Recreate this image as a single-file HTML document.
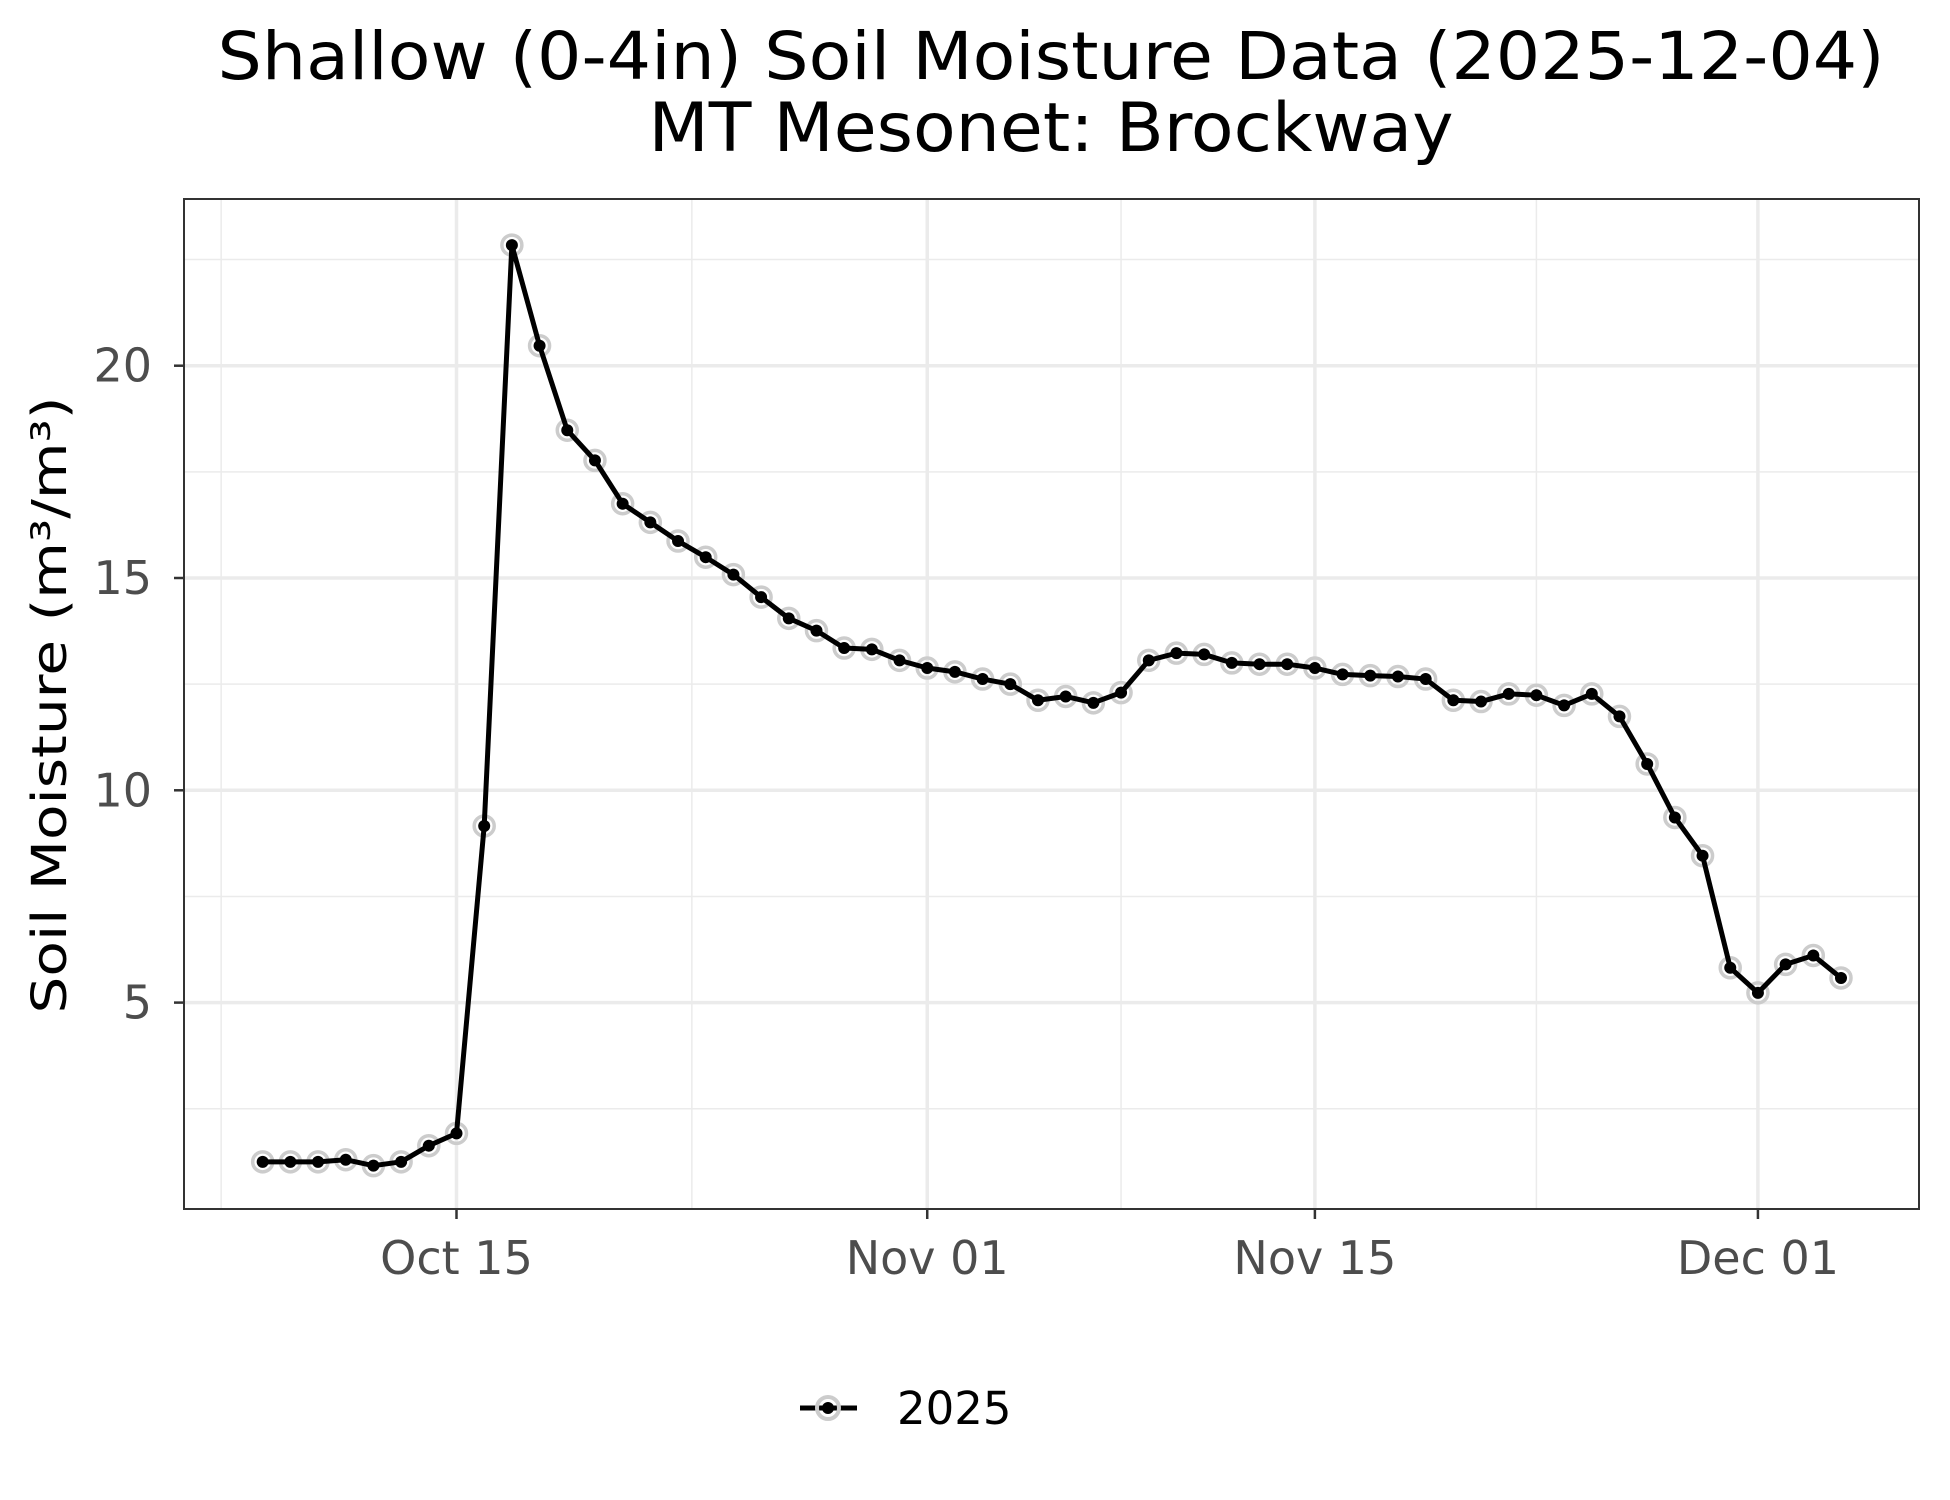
<!DOCTYPE html>
<html><head><meta charset="utf-8"><style>html,body{margin:0;padding:0;background:#fff}svg{display:block}</style></head>
<body>
<svg id="s" width="1950" height="1500" viewBox="0 0 1950 1500" xmlns="http://www.w3.org/2000/svg" font-family="DejaVu Sans, Liberation Sans, sans-serif">
<rect width="1950" height="1500" fill="#fff"/>
<text x="1051" y="79" font-size="66" text-anchor="middle" textLength="1667" lengthAdjust="spacingAndGlyphs">Shallow (0-4in) Soil Moisture Data (2025-12-04)</text>
<text x="1051" y="151" font-size="68" text-anchor="middle" textLength="805" lengthAdjust="spacingAndGlyphs">MT Mesonet: Brockway</text>
<g id="grid"></g>
<g id="data"></g>
<rect x="184" y="199" width="1735" height="1010" fill="none" stroke="#333" stroke-width="2"/>
<g id="ticks" font-size="46" fill="#4d4d4d"></g>
<text transform="translate(66,705) rotate(-90)" font-size="48" text-anchor="middle" textLength="617" lengthAdjust="spacingAndGlyphs">Soil Moisture (m³/m³)</text>
<line x1="800" y1="1408" x2="857" y2="1408" stroke="#000" stroke-width="5"/>
<circle cx="828" cy="1408" r="11" fill="none" stroke="#ccc" stroke-width="4"/>
<circle cx="828" cy="1408" r="6" fill="#000"/>
<text x="897" y="1424" font-size="45">2025</text>
</svg>
<script>
const NS="http://www.w3.org/2000/svg";
function el(p,t,a,txt){const e=document.createElementNS(NS,t);for(const k in a)e.setAttribute(k,a[k]);if(txt)e.textContent=txt;document.getElementById(p).appendChild(e);}
const X=d=>456.5+d*27.69;
const Y=v=>1002.6-(v-5)*42.46;
[2.5,7.5,12.5,17.5,22.5].forEach(v=>el('grid','line',{x1:184,x2:1919,y1:Y(v),y2:Y(v),stroke:'#ebebeb','stroke-width':1.5}));
[-8.5,8.5,24,39].forEach(d=>el('grid','line',{y1:199,y2:1209,x1:X(d),x2:X(d),stroke:'#ebebeb','stroke-width':1.5}));
[5,10,15,20].forEach(v=>{el('grid','line',{x1:184,x2:1919,y1:Y(v),y2:Y(v),stroke:'#ebebeb','stroke-width':3.5});
 el('ticks','line',{x1:174,x2:184,y1:Y(v),y2:Y(v),stroke:'#333','stroke-width':2.5});
 el('ticks','text',{x:152,y:Y(v)+16,'text-anchor':'end'},String(v));});
[[0,'Oct 15'],[17,'Nov 01'],[31,'Nov 15'],[47,'Dec 01']].forEach(([d,l])=>{
 el('grid','line',{y1:199,y2:1209,x1:X(d),x2:X(d),stroke:'#ebebeb','stroke-width':3.5});
 el('ticks','line',{y1:1209,y2:1219,x1:X(d),x2:X(d),stroke:'#333','stroke-width':2.5});
 el('ticks','text',{x:X(d),y:1274,'text-anchor':'middle'},l);});
const v=[1.25,1.25,1.25,1.3,1.16,1.25,1.63,1.92,9.16,22.84,20.47,18.48,17.77,16.75,16.31,15.87,15.49,15.08,14.55,14.05,13.76,13.35,13.32,13.06,12.88,12.79,12.62,12.5,12.12,12.21,12.06,12.3,13.06,13.23,13.2,13.0,12.97,12.97,12.88,12.73,12.7,12.68,12.62,12.12,12.09,12.27,12.24,12.0,12.27,11.74,10.62,9.36,8.46,5.82,5.23,5.9,6.11,5.58];
const pts=v.map((y,i)=>[X(i-7),Y(y)]);
pts.forEach(p=>el('data','circle',{cx:p[0],cy:p[1],r:10,fill:'none',stroke:'#ccc','stroke-width':3.5}));
el('data','polyline',{points:pts.map(p=>p.join(',')).join(' '),fill:'none',stroke:'#000','stroke-width':5,'stroke-linejoin':'round'});
pts.forEach(p=>el('data','circle',{cx:p[0],cy:p[1],r:6,fill:'#000'}));
</script>
</body></html>
